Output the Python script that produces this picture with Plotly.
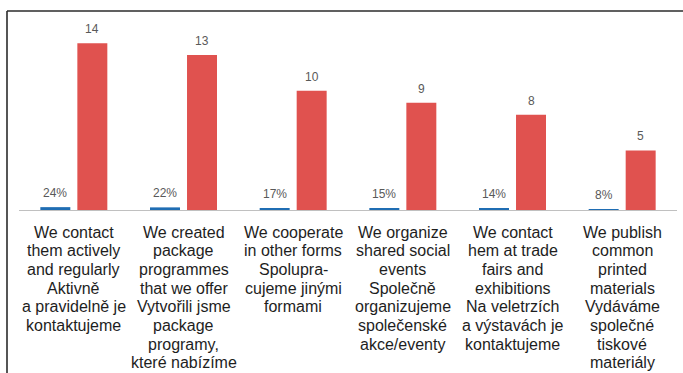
import plotly.graph_objects as go

# Survey answers: share of respondents (%) and number of responses
categories = [
    ["We contact", "them actively", "and regularly", "Aktivně", "a pravidelně je", "kontaktujeme"],
    ["We created", "package", "programmes", "that we offer", "Vytvořili jsme", "package", "programy,", "které nabízíme"],
    ["We cooperate", "in other forms", "Spolupra-", "cujeme jinými", "formami"],
    ["We organize", "shared social", "events", "Společně", "organizujeme", "společenské", "akce/eventy"],
    ["We contact", "hem at trade", "fairs and", "exhibitions", "Na veletrzích", "a výstavách je", "kontaktujeme"],
    ["We publish", "common", "printed", "materials", "Vydáváme", "společné", "tiskové", "materiály"],
]
share_pct = [24, 22, 17, 15, 14, 8]
responses = [14, 13, 10, 9, 8, 5]

BLUE = "#1f6db3"
RED = "#e0524f"
LABEL_GREY = "#595959"

x_idx = list(range(len(categories)))
share_vals = [p / 100 for p in share_pct]

BARGAP = 0.325
BARGROUPGAP = 0.19
slot_offset = (1 - BARGAP) / 4  # centre of each bar relative to the category centre

fig = go.Figure()
fig.add_trace(go.Bar(x=x_idx, y=share_vals, marker_color=BLUE, marker_line_width=0,
                     name="share", hoverinfo="skip"))
fig.add_trace(go.Bar(x=x_idx, y=responses, marker_color=RED, marker_line_width=0,
                     name="responses", hoverinfo="skip"))

annotations = []
# value labels above the bars
for i, (p, v, n) in enumerate(zip(share_pct, share_vals, responses)):
    annotations.append(dict(x=i - slot_offset, y=v, xref="x", yref="y", text=f"{p}%",
                            showarrow=False, yanchor="middle", yshift=14,
                            font=dict(family="Liberation Sans", size=12, color=LABEL_GREY)))
    annotations.append(dict(x=i + slot_offset, y=n, xref="x", yref="y", text=str(n),
                            showarrow=False, yanchor="middle", yshift=14,
                            font=dict(family="Liberation Sans", size=12, color=LABEL_GREY)))

# multi-line category labels under the axis
LINE_PITCH = 18.7
for i, lines in enumerate(categories):
    for k, line in enumerate(lines):
        annotations.append(dict(x=i, y=0, xref="x", yref="paper", text=line,
                                showarrow=False, yanchor="middle",
                                yshift=-(22 + k * LINE_PITCH),
                                font=dict(family="Liberation Sans", size=16, color="#1e1e1e")))

W, H = 683, 373
ML, MR, MT, MB = 19, 6, 11, 163
plot_w = W - ML - MR

fig.update_layout(
    width=W, height=H,
    margin=dict(l=ML, r=MR, t=MT, b=MB, pad=0),
    paper_bgcolor="white", plot_bgcolor="white",
    barmode="group", bargap=BARGAP, bargroupgap=BARGROUPGAP,
    showlegend=False,
    annotations=annotations,
    xaxis=dict(range=[-0.5, len(categories) - 0.5], showticklabels=False, ticks="",
               showgrid=False, zeroline=False, showline=True, linecolor="#c0c0c0",
               linewidth=1, fixedrange=True),
    yaxis=dict(range=[0, 16.7], visible=False, showgrid=False, zeroline=False,
               fixedrange=True),
    shapes=[
        # frame: top rule and left rule
        dict(type="line", xref="paper", yref="paper",
             x0=(7 - ML) / plot_w, x1=(W - ML) / plot_w, y0=1, y1=1,
             line=dict(color="#2b2b2b", width=1.6)),
        dict(type="line", xref="paper", yref="paper",
             x0=(7 - ML) / plot_w, x1=(7 - ML) / plot_w, y0=1, y1=-(MB + 5) / (H - MT - MB),
             line=dict(color="#2b2b2b", width=1.6)),
    ],
)

fig.write_html("out.html", config={"displayModeBar": False})
